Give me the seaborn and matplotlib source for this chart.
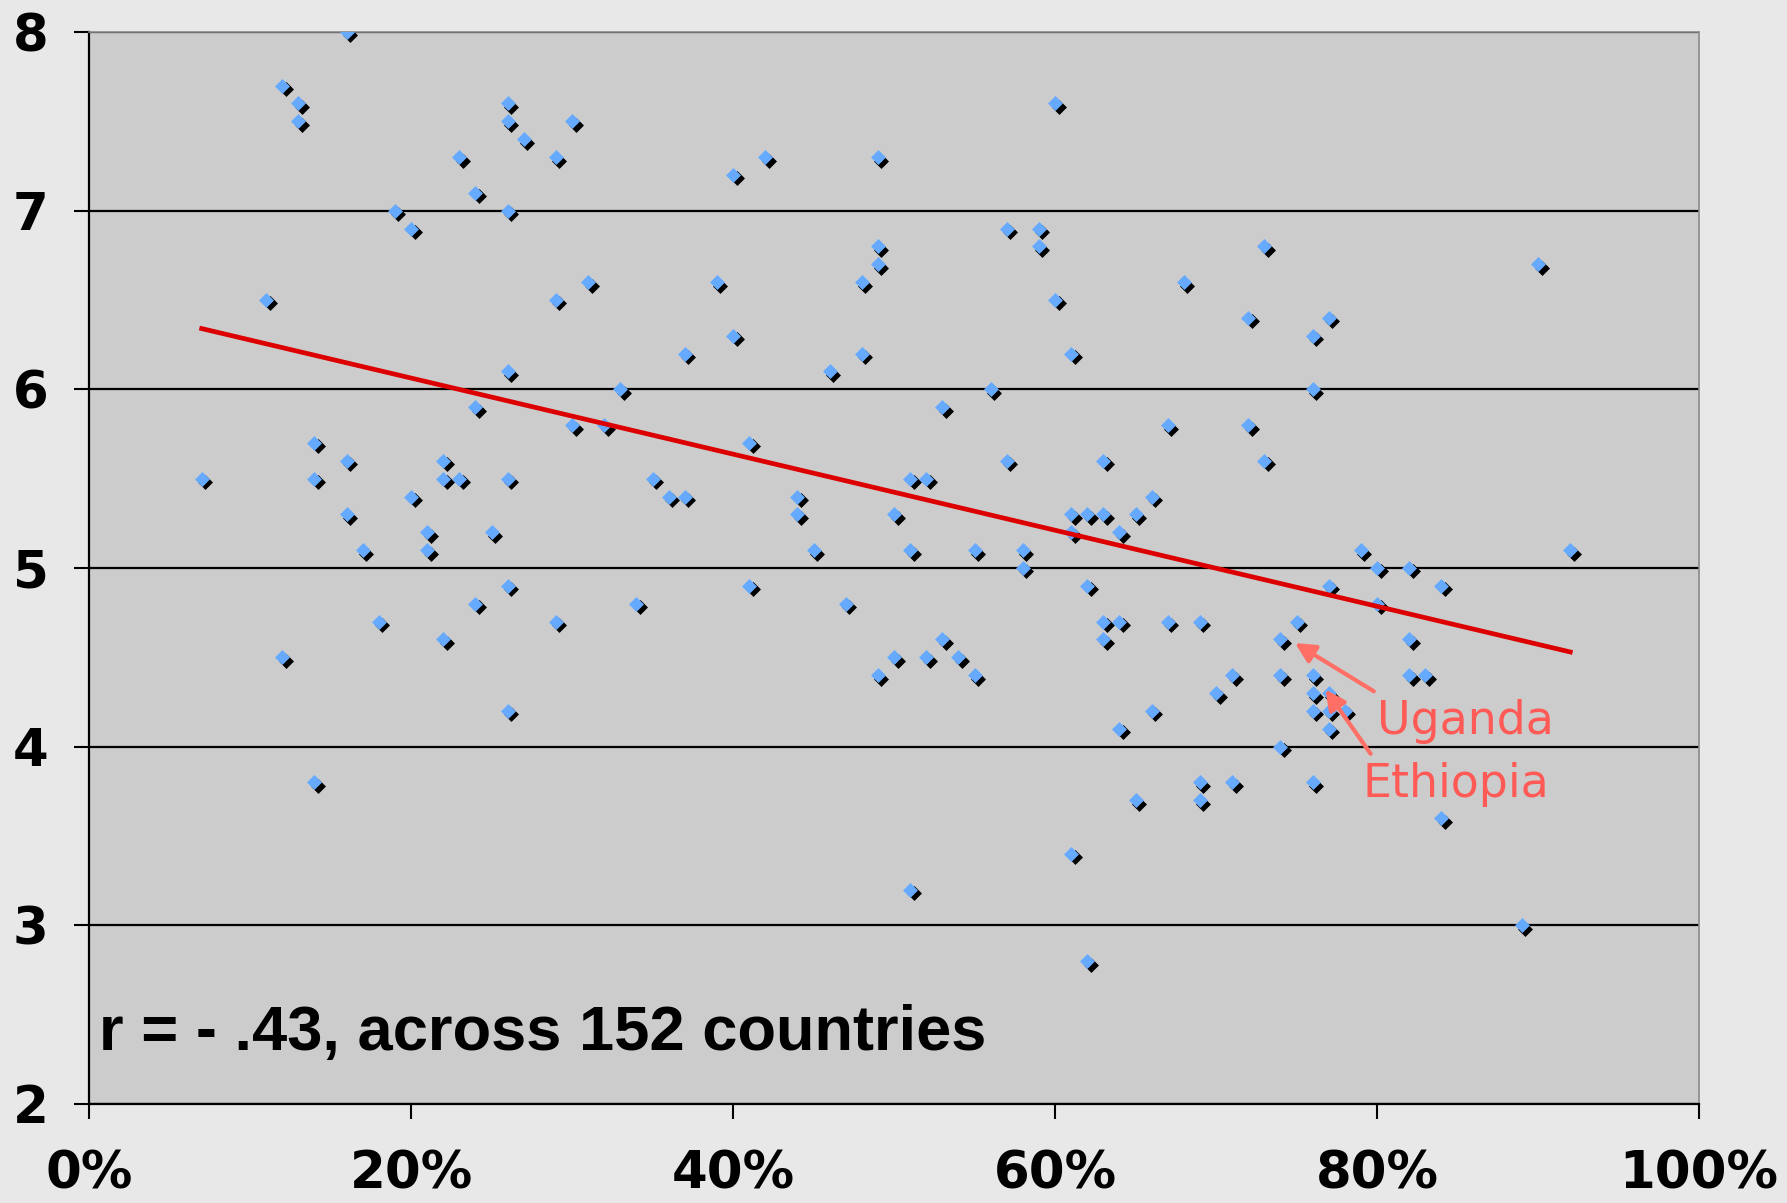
import numpy as np
import pandas as pd
import seaborn as sns
import matplotlib
matplotlib.use("Agg")
import matplotlib.pyplot as plt
import matplotlib.transforms as mtransforms
from matplotlib.ticker import PercentFormatter, FixedLocator

# ---- data (x in percent, y score) ----
x_pct = [7, 11, 12, 12, 13, 13, 14, 14, 14, 16, 16, 16, 17, 18, 19, 20, 20, 21, 21,
         22, 22, 22, 23, 23, 24, 24, 24, 25, 26, 26, 26, 26, 26, 26, 26, 27, 29, 29,
         29, 30, 30, 31, 32, 33, 34, 35, 36, 37, 37, 39, 40, 40, 41, 41, 42, 44, 44,
         45, 46, 47, 48, 48, 49, 49, 49, 49, 50, 50, 51, 51, 51, 52, 52, 53, 53, 54,
         55, 55, 56, 57, 57, 58, 58, 59, 59, 60, 60, 61, 61, 61, 61, 62, 62, 62, 63,
         63, 63, 63, 64, 64, 64, 65, 65, 66, 66, 67, 67, 68, 69, 69, 69, 70, 71, 71,
         72, 72, 73, 73, 74, 74, 74, 75, 76, 76, 76, 76, 76, 76, 77, 77, 77, 77, 77,
         78, 79, 80, 80, 82, 82, 82, 83, 84, 84, 89, 90, 92]
y_val = [5.5, 6.5, 7.7, 4.5, 7.6, 7.5, 5.7, 5.5, 3.8, 8.0, 5.6, 5.3, 5.1, 4.7, 7.0, 6.9, 5.4, 5.2, 5.1,
         5.6, 5.5, 4.6, 7.3, 5.5, 7.1, 5.9, 4.8, 5.2, 7.6, 7.5, 7.0, 6.1, 5.5, 4.9, 4.2, 7.4, 7.3, 6.5,
         4.7, 7.5, 5.8, 6.6, 5.8, 6.0, 4.8, 5.5, 5.4, 6.2, 5.4, 6.6, 7.2, 6.3, 5.7, 4.9, 7.3, 5.4, 5.3,
         5.1, 6.1, 4.8, 6.6, 6.2, 7.3, 6.8, 6.7, 4.4, 5.3, 4.5, 5.5, 5.1, 3.2, 5.5, 4.5, 5.9, 4.6, 4.5,
         5.1, 4.4, 6.0, 6.9, 5.6, 5.1, 5.0, 6.9, 6.8, 7.6, 6.5, 6.2, 5.3, 5.2, 3.4, 5.3, 4.9, 2.8, 5.6,
         5.3, 4.7, 4.6, 5.2, 4.7, 4.1, 5.3, 3.7, 5.4, 4.2, 5.8, 4.7, 6.6, 4.7, 3.8, 3.7, 4.3, 4.4, 3.8,
         6.4, 5.8, 6.8, 5.6, 4.6, 4.4, 4.0, 4.7, 6.3, 6.0, 4.4, 4.3, 4.2, 3.8, 6.4, 4.9, 4.3, 4.2, 4.1,
         4.2, 5.1, 5.0, 4.8, 5.0, 4.6, 4.4, 4.4, 4.9, 3.6, 3.0, 6.7, 5.1]

trend_x = [7, 92]
trend_y = [6.34, 4.53]

x_ticks = [0, 20, 40, 60, 80, 100]
y_ticks = [2, 3, 4, 5, 6, 7, 8]

stat_text = "r = - .43, across 152 countries"
labels = ["Uganda", "Ethiopia"]

df = pd.DataFrame({"x": x_pct, "y": y_val})
trend = pd.DataFrame({"x": trend_x, "y": trend_y})

# ---- figure ----
fig = plt.figure(figsize=(17.87, 12.03), dpi=100)
fig.patch.set_facecolor("#E8E8E8")
ax = fig.add_axes([0.0498, 0.0823, 0.9010, 0.8911])
ax.set_facecolor("#CCCCCC")

shadow = mtransforms.offset_copy(ax.transData, fig=fig, x=3.5, y=-3.5, units="dots")
sns.scatterplot(data=df, x="x", y="y", marker="D", s=58, color="black",
                linewidth=0, ax=ax, transform=shadow, zorder=3)
sns.scatterplot(data=df, x="x", y="y", marker="D", s=58, color="#66AAFF",
                linewidth=0, ax=ax, zorder=3.5)
sns.lineplot(data=trend, x="x", y="y", color="#DD0000", lw=3.4, ax=ax, zorder=4)

ax.set_xlim(0, 100)
ax.set_ylim(2, 8)
ax.xaxis.set_major_locator(FixedLocator(x_ticks))
ax.yaxis.set_major_locator(FixedLocator(y_ticks))
ax.xaxis.set_major_formatter(PercentFormatter(100, decimals=0))
ax.set_xlabel("")
ax.set_ylabel("")

ax.yaxis.grid(True, color="black", lw=1.6, zorder=1)
ax.xaxis.grid(False)
ax.set_axisbelow(True)

for side in ["left", "bottom"]:
    ax.spines[side].set_color("black")
    ax.spines[side].set_linewidth(1.6)
for side in ["top", "right"]:
    ax.spines[side].set_color("#8A8A8A")
    ax.spines[side].set_linewidth(1.2)

ax.tick_params(axis="both", direction="out", length=11, width=1.5, color="black")
ax.tick_params(axis="x", pad=22)
ax.tick_params(axis="y", pad=18)
for lab in ax.get_xticklabels() + ax.get_yticklabels():
    lab.set_fontfamily(["DejaVu Sans"])
    lab.set_fontweight("bold")
    lab.set_fontsize(37)

ax.text(0.62, 2.30, stat_text, fontsize=45.5, fontweight="bold",
        family=["Liberation Sans", "DejaVu Sans"], color="black",
        ha="left", va="baseline", zorder=5)

ann_color = "#FF5A55"
arrow_kw = dict(arrowstyle="-|>", color="#FF6F66", lw=3.0,
                mutation_scale=30, shrinkA=0, shrinkB=0)
ax.annotate("", xy=(74.9, 4.58), xytext=(79.8, 4.31), arrowprops=arrow_kw, zorder=5)
ax.annotate("", xy=(76.8, 4.32), xytext=(79.6, 3.96), arrowprops=arrow_kw, zorder=5)
ax.text(80.0, 4.07, labels[0], fontsize=33, color=ann_color,
        family=["DejaVu Sans"], ha="left", va="baseline", zorder=5)
ax.text(79.1, 3.72, labels[1], fontsize=33, color=ann_color,
        family=["DejaVu Sans"], ha="left", va="baseline", zorder=5)

fig.savefig("out.png", dpi=100, facecolor=fig.get_facecolor())
